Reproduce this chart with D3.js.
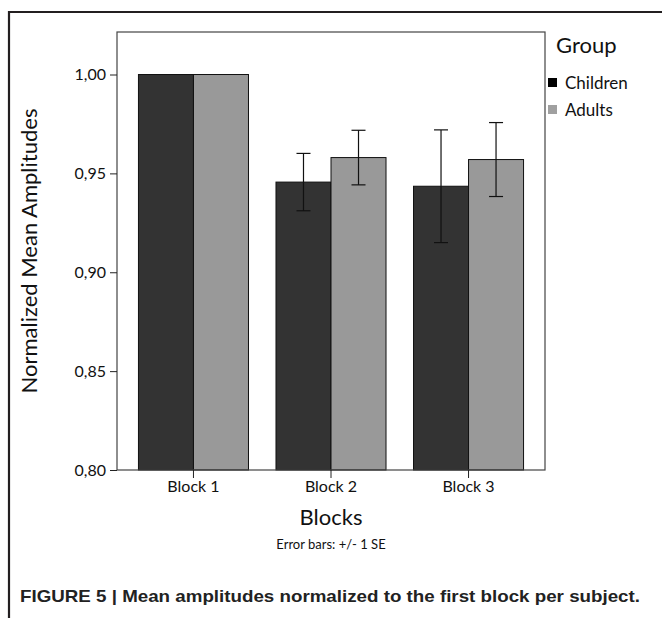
<!DOCTYPE html>
<html>
<head>
<meta charset="utf-8">
<script src="https://cdn.jsdelivr.net/npm/d3@7"></script>
<style>
  html, body { margin: 0; padding: 0; background: #fff; }
  svg { display: block; }
  text { font-family: Lato, "Noto Sans", sans-serif; fill: #111; }
  .caption { font-family: "Liberation Sans Narrow", "Liberation Sans", Arial, sans-serif; font-weight: bold; fill: #222; }
</style>
</head>
<body>
<svg id="chart" width="662" height="618"></svg>
<script>
// ── data ──
var blocks = ['Block 1', 'Block 2', 'Block 3'];
var groups = ['Children', 'Adults'];
var childrenMean = [1.000, 0.9456, 0.9435];
var adultsMean = [1.000, 0.9580, 0.9570];
var childrenSE = [0, 0.0145, 0.0285];
var adultsSE = [0, 0.0138, 0.0187];
var yTicks = [0.80, 0.85, 0.90, 0.95, 1.00];
var groupColors = ['#333333', '#999999'];

(function () {
  'use strict';
  var svg = d3.select('#chart');
  var left = 117, right = 545, top = 32, bottom = 470;

  var x = d3.scaleBand().domain(blocks).range([left, right]).paddingInner(0.2).paddingOuter(0.156);
  var xg = d3.scaleBand().domain(groups).range([0, x.bandwidth()]);
  var y = d3.scaleLinear().domain([0.80, 1.0215]).range([bottom, top]);
  var fmt = d3.formatLocale({ decimal: ',', thousands: '.', grouping: [3], currency: ['', ''] }).format('.2f');

  // outer frame (top + left)
  svg.append('path').attr('d', 'M9,618V12H662').attr('fill', 'none').attr('stroke', '#231f20').attr('stroke-width', 2.2);

  // bars
  var rows = [];
  blocks.forEach(function (b, i) {
    rows.push({ block: b, group: 'Children', mean: childrenMean[i], se: childrenSE[i], c: 0 });
    rows.push({ block: b, group: 'Adults', mean: adultsMean[i], se: adultsSE[i], c: 1 });
  });

  svg.append('g').selectAll('rect').data(rows).join('rect')
    .attr('x', function (d) { return x(d.block) + xg(d.group); })
    .attr('y', function (d) { return y(d.mean); })
    .attr('width', xg.bandwidth())
    .attr('height', function (d) { return y(0.80) - y(d.mean); })
    .attr('fill', function (d) { return groupColors[d.c]; })
    .attr('stroke', '#111').attr('stroke-width', 1);

  // error bars
  var eb = svg.append('g').attr('stroke', '#111').attr('stroke-width', 1.2);
  rows.filter(function (d) { return d.se > 0; }).forEach(function (d) {
    var cx = x(d.block) + xg(d.group) + xg.bandwidth() / 2;
    var y0 = y(d.mean - d.se), y1 = y(d.mean + d.se);
    eb.append('line').attr('x1', cx).attr('x2', cx).attr('y1', y0).attr('y2', y1);
    eb.append('line').attr('x1', cx - 7).attr('x2', cx + 7).attr('y1', y0).attr('y2', y0);
    eb.append('line').attr('x1', cx - 7).attr('x2', cx + 7).attr('y1', y1).attr('y2', y1);
  });

  // plot frame
  svg.append('rect').attr('x', left).attr('y', top).attr('width', right - left).attr('height', bottom - top)
    .attr('fill', 'none').attr('stroke', '#444').attr('stroke-width', 1.2);

  // axes
  var yAxis = svg.append('g').attr('transform', 'translate(' + left + ',0)')
    .call(d3.axisLeft(y).tickValues(yTicks).tickFormat(fmt).tickSize(7).tickPadding(4));
  yAxis.select('.domain').remove();
  yAxis.selectAll('line').attr('stroke', '#222');
  yAxis.selectAll('text').attr('font-size', 16).attr('font-family', 'Lato, sans-serif').attr('fill', '#111');

  var xAxis = svg.append('g').attr('transform', 'translate(0,' + bottom + ')')
    .call(d3.axisBottom(x).tickSize(8).tickPadding(3));
  xAxis.select('.domain').remove();
  xAxis.selectAll('line').attr('stroke', '#222');
  xAxis.selectAll('text').attr('font-size', 16).attr('font-family', 'Lato, sans-serif').attr('fill', '#111');

  // titles
  svg.append('text').attr('x', (left + right) / 2).attr('y', 525).attr('text-anchor', 'middle')
    .attr('font-size', 22).text('Blocks');
  svg.append('text').attr('x', (left + right) / 2).attr('y', 549).attr('text-anchor', 'middle')
    .attr('font-size', 13).text('Error bars: +/- 1 SE');
  svg.append('text').attr('transform', 'translate(37,' + ((top + bottom) / 2) + ') rotate(-90)')
    .attr('text-anchor', 'middle').attr('font-size', 22).text('Normalized Mean Amplitudes');

  // legend
  svg.append('text').attr('x', 556).attr('y', 53).attr('font-size', 22).text('Group');
  var lg = svg.append('g').selectAll('g').data(groups).join('g')
    .attr('transform', function (d, i) { return 'translate(548,' + (78 + i * 27) + ')'; });
  lg.append('rect').attr('width', 9).attr('height', 9)
    .attr('fill', function (d, i) { return i === 0 ? '#000' : '#a0a0a0'; });
  lg.append('text').attr('x', 17).attr('y', 11).attr('font-size', 17).text(function (d) { return d; });

  // caption
  svg.append('text').attr('class', 'caption').attr('x', 20).attr('y', 602).attr('font-size', 17)
    .attr('textLength', 620).attr('lengthAdjust', 'spacingAndGlyphs')
    .text('FIGURE 5 | Mean amplitudes normalized to the first block per subject.');
})();
</script>
</body>
</html>
